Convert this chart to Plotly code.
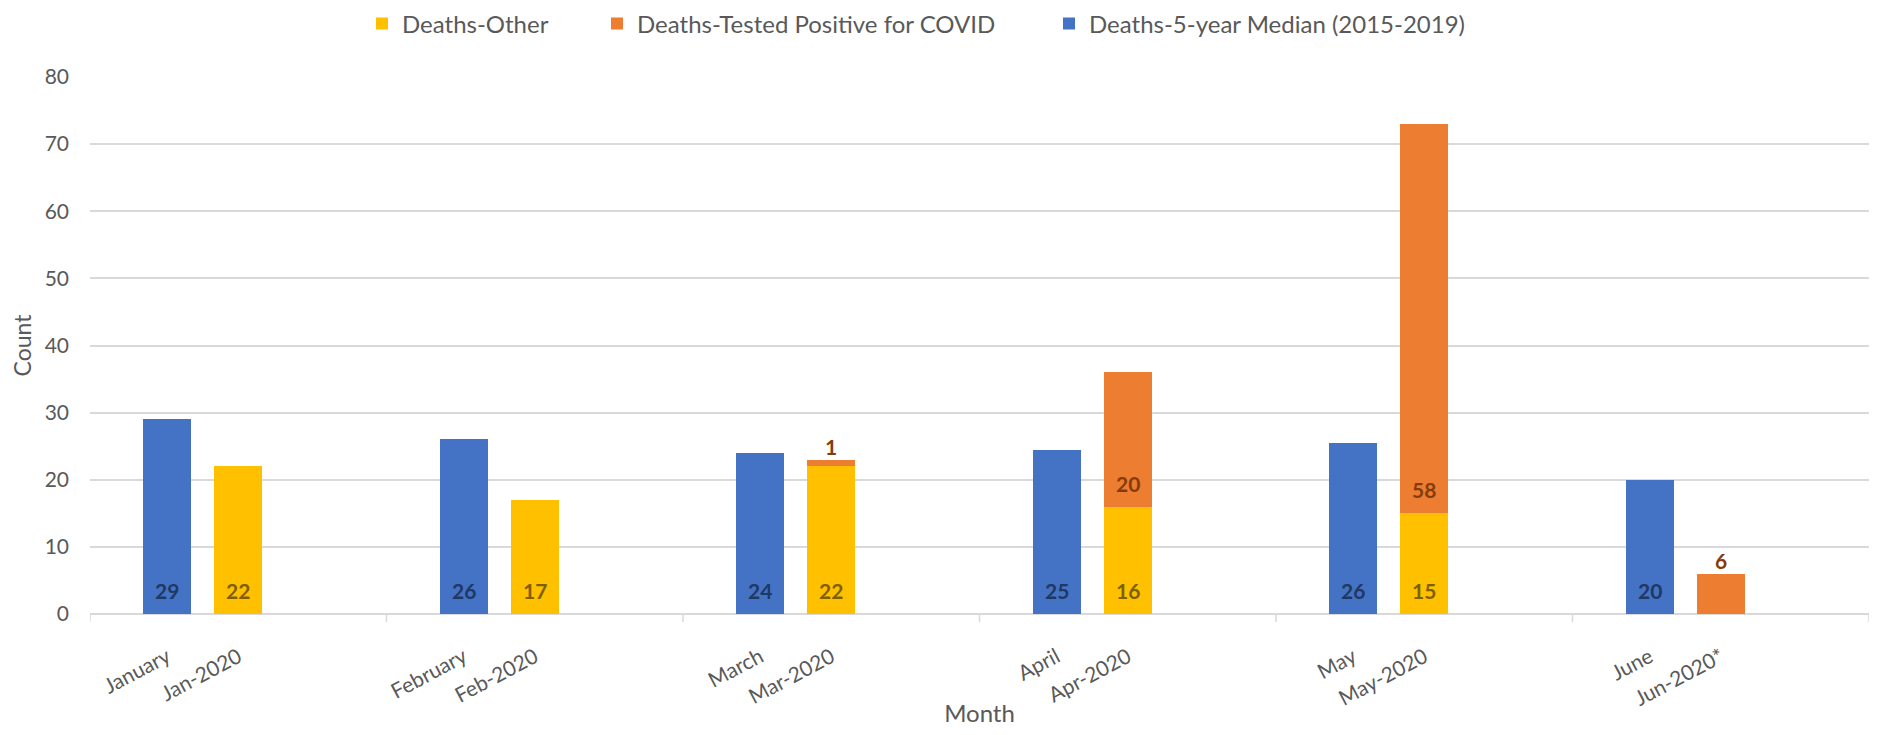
import plotly.graph_objects as go

# data
months = ["January", "February", "March", "April", "May", "June"]
months_2020 = ["Jan-2020", "Feb-2020", "Mar-2020", "Apr-2020", "May-2020", "Jun-2020*"]
median_5yr = [29, 26, 24, 24.5, 25.5, 20]
deaths_other = [22, 17, 22, 16, 15, 0]
deaths_covid = [0, 0, 1, 20, 58, 6]

BLUE = "#4472C4"
YELLOW = "#FFC000"
ORANGE = "#ED7D31"
FONT = "Lato"
GREY = "#595959"

# the page body has an 8px margin, so the figure is drawn slightly smaller
W, H = 1861, 719

# bar positions inside each month group (group = 1 unit wide)
n = len(months)
x_med = [i + 0.26 for i in range(n)]
x_2020 = [i + 0.50 for i in range(n)]
bar_w = 0.162


def fmt(v):
    return str(int(v + 0.5))


fig = go.Figure()

fig.add_trace(go.Bar(x=x_2020, y=deaths_other, width=bar_w, name="Deaths-Other",
                     marker=dict(color=YELLOW, line=dict(width=0)), legend="legend"))
fig.add_trace(go.Bar(x=x_2020, y=deaths_covid, width=bar_w, name="Deaths-Tested Positive for COVID",
                     marker=dict(color=ORANGE, line=dict(width=0)), legend="legend2"))
fig.add_trace(go.Bar(x=x_med, y=median_5yr, width=bar_w, name="Deaths-5-year Median (2015-2019)",
                     marker=dict(color=BLUE, line=dict(width=0)), legend="legend3"))

# data labels
lab_font = dict(family=FONT, size=21, weight="bold")
inside_shift = 9
for i in range(n):
    fig.add_annotation(x=x_med[i], y=0, text=fmt(median_5yr[i]), showarrow=False,
                       yanchor="bottom", yshift=inside_shift, font=dict(color="#203864", **lab_font))
    if deaths_other[i]:
        fig.add_annotation(x=x_2020[i], y=0, text=fmt(deaths_other[i]), showarrow=False,
                           yanchor="bottom", yshift=inside_shift, font=dict(color="#7F6000", **lab_font))
    if deaths_covid[i]:
        if deaths_covid[i] < 10:
            # small segment: label sits above the bar
            fig.add_annotation(x=x_2020[i], y=deaths_other[i] + deaths_covid[i], text=fmt(deaths_covid[i]),
                               showarrow=False, yanchor="bottom", yshift=-1,
                               font=dict(color="#843C0C", **lab_font))
        else:
            fig.add_annotation(x=x_2020[i], y=deaths_other[i], text=fmt(deaths_covid[i]),
                               showarrow=False, yanchor="bottom", yshift=inside_shift,
                               font=dict(color="#843C0C", **lab_font))

# group separator tick marks on the category axis
for i in range(n + 1):
    fig.add_shape(type="line", xref="x", yref="paper", x0=i, x1=i, y0=0, y1=-0.015,
                  line=dict(color="#D9D9D9", width=1.5))

leg = dict(orientation="h", xref="container", yref="container", y=1 - 16 / H, yanchor="middle",
           xanchor="left", font=dict(size=24, color=GREY), bgcolor="rgba(0,0,0,0)")

fig.update_layout(
    width=W, height=H,
    barmode="stack",
    showlegend=True,
    plot_bgcolor="white", paper_bgcolor="white",
    margin=dict(l=82, r=0, t=69, b=113, autoexpand=False),
    font=dict(family=FONT, color=GREY, size=20),
    legend=dict(leg, x=354 / W),
    legend2=dict(leg, x=589 / W),
    legend3=dict(leg, x=1041 / W),
    xaxis=dict(
        range=[0, n], tickvals=x_med + x_2020, ticktext=months + months_2020,
        tickangle=-28, showgrid=False, zeroline=False, ticks="",
        ticklabelstandoff=26,
        tickfont=dict(size=21, color=GREY),
        title=dict(text="Month", font=dict(size=24, color=GREY), standoff=28),
    ),
    yaxis=dict(
        range=[0, 80], dtick=10, showgrid=True, gridcolor="#D9D9D9", gridwidth=1.5,
        zeroline=True, zerolinecolor="#D9D9D9", zerolinewidth=2,
        tickfont=dict(size=21, color=GREY), ticklabelstandoff=20,
        title=dict(text="Count", font=dict(size=23, color=GREY), standoff=15),
    ),
)

fig.write_html("out.html")
